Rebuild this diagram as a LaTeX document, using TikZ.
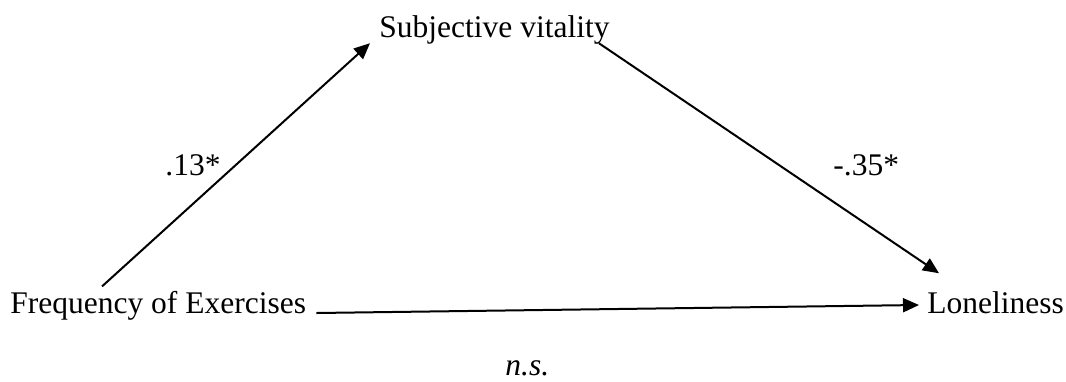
\documentclass[tikz,border=0pt]{standalone}
\usepackage{fontspec}
\setmainfont{Liberation Serif}
\usepackage{tikz}
\usetikzlibrary{arrows.meta, positioning}

\begin{document}
\begin{tikzpicture}[
    x=0.5pt, y=-0.5pt,
    var/.style={inner sep=0pt, anchor=base west, font=\fontsize{15.75}{19}\selectfont},
    coef/.style={inner sep=0pt, anchor=base west, font=\fontsize{15.75}{19}\selectfont},
    arrow/.style={-{Triangle[length=8pt, width=7pt]}, line width=1pt}
]
    \useasboundingbox (0,0) rectangle (1066,381);
    \node [var] (freq) at (10,313) {Frequency of Exercises};
    \node [var] (vit) at (379,37) {Subjective vitality};
    \node [var] (lon) at (927,313) {Loneliness};
    \node [coef] (a) at (165,175) {.13*};
    \node [coef] (b) at (833,175) {-.35*};
    \node [coef, font=\fontsize{15.75}{19}\selectfont\itshape] (c) at (505,375) {n.s.};
    \draw [arrow] ([xshift=46pt, yshift=2pt]freq.north west) -- ([xshift=-4.5pt, yshift=0.5pt]vit.south west);
    \draw [arrow] ([xshift=-5.5pt, yshift=0.5pt]vit.south east) -- ([xshift=6pt, yshift=8.75pt]lon.north west);
    \draw [arrow] ([xshift=5pt]freq.base east) -- ([xshift=-4pt, yshift=4pt]lon.base west);
\end{tikzpicture}
\end{document}
